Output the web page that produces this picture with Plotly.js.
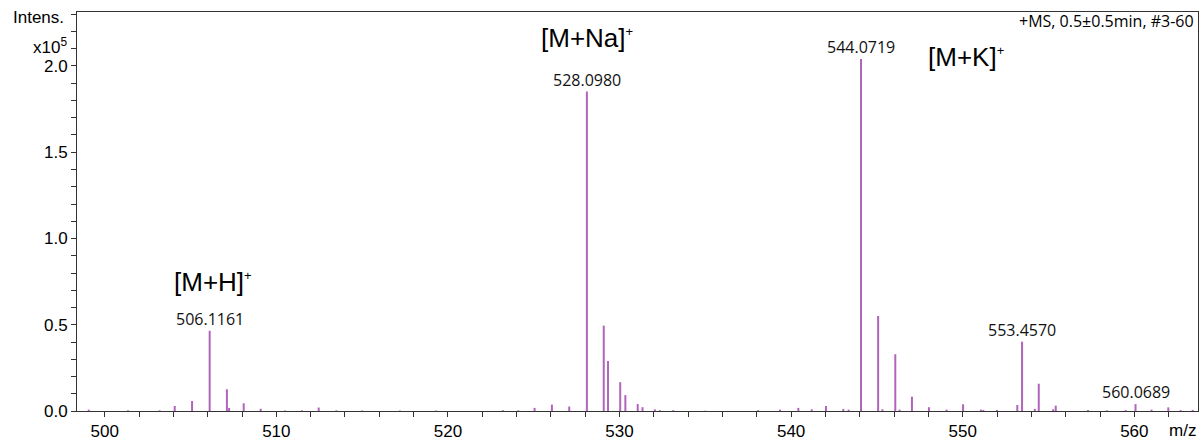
<!DOCTYPE html>
<html>
<head>
<meta charset="utf-8">
<script src="https://cdn.plot.ly/plotly-3.0.1.min.js"></script>
<style>
  html, body { margin: 0; padding: 0; background: #fff; }
  #chart { width: 1202px; height: 441px; }
</style>
</head>
<body>
<div id="chart"></div>
<script>
// m/z values of the spectrum sticks
const mzValues = [
  499.07, 501.36, 503.20, 504.08, 505.09, 506.1161, 507.12, 507.25, 508.10, 509.09,
  510.50, 511.50, 512.47, 513.50, 515.00, 517.20, 519.30, 523.20, 524.10, 525.05,
  526.06, 527.07, 528.0980, 529.08, 529.33, 530.04, 530.34, 531.06, 531.34, 532.06,
  532.35, 533.13, 535.00, 538.08, 539.35, 540.42, 541.20, 542.03, 543.04, 543.35,
  544.0719, 545.07, 545.32, 546.07, 546.32, 547.04, 548.03, 549.06, 550.02, 551.06,
  551.20, 552.00, 553.18, 553.4570, 554.20, 554.43, 555.27, 555.42, 557.30, 558.40,
  559.50, 560.0689, 561.00, 561.98, 562.70, 563.40
];
// intensities (x10^5)
const intensities = [
  0.008, 0.004, 0.004, 0.029, 0.058, 0.465, 0.126, 0.018, 0.045, 0.013,
  0.003, 0.004, 0.020, 0.004, 0.003, 0.003, 0.003, 0.005, 0.004, 0.018,
  0.037, 0.026, 1.852, 0.495, 0.290, 0.167, 0.092, 0.041, 0.022, 0.009,
  0.005, 0.005, 0.002, 0.005, 0.008, 0.018, 0.010, 0.029, 0.012, 0.008,
  2.040, 0.551, 0.010, 0.329, 0.008, 0.083, 0.022, 0.008, 0.039, 0.008,
  0.006, 0.006, 0.035, 0.402, 0.012, 0.158, 0.010, 0.031, 0.006, 0.004,
  0.005, 0.040, 0.008, 0.021, 0.005, 0.006
];
// peaks that carry an m/z label
const labelledPeaks = [506.1161, 528.0980, 544.0719, 553.4570, 560.0689];
// ion assignment labels
const ionNames = ['[M+H]', '[M+Na]', '[M+K]'];

const stickColor = '#b064bb';

// build stick lines
const sx = [], sy = [];
mzValues.forEach((m, i) => {
  sx.push(m, m, null);
  sy.push(0, intensities[i], null);
});

const annotations = [];
labelledPeaks.forEach(m => {
  const idx = mzValues.indexOf(m);
  annotations.push({
    x: m, y: intensities[idx], xref: 'x', yref: 'y',
    text: m.toFixed(4), showarrow: false,
    xanchor: 'center', yanchor: 'bottom', yshift: -1,
    font: { family: 'Open Sans', size: 16, color: '#111' }
  });
});

const ionPos = [[506.3, 0.748], [528.13, 2.16], [550.19, 2.05]];
ionNames.forEach((t, i) => {
  annotations.push({
    x: ionPos[i][0], y: ionPos[i][1], xref: 'x', yref: 'y',
    text: t + '<sup><span style="font-size:13px">+</span></sup>',
    showarrow: false, xanchor: 'center', yanchor: 'middle',
    font: { family: 'Liberation Sans', size: 26, color: '#000' }
  });
});

// axis captions
annotations.push({
  xref: 'paper', yref: 'paper', x: -0.0095, y: 0.985,
  text: 'Intens.', showarrow: false, xanchor: 'right', yanchor: 'middle',
  font: { family: 'Liberation Sans', size: 17, color: '#000' }
});
annotations.push({
  xref: 'paper', yref: 'paper', x: -0.0075, y: 0.915,
  text: 'x10<sup>5</sup>', showarrow: false, xanchor: 'right', yanchor: 'middle',
  font: { family: 'Liberation Sans', size: 17, color: '#000' }
});
annotations.push({
  xref: 'paper', yref: 'paper', x: 1.0, y: -0.048,
  text: 'm/z', showarrow: false, xanchor: 'right', yanchor: 'middle',
  font: { family: 'Liberation Sans', size: 17, color: '#000' }
});
annotations.push({
  xref: 'paper', yref: 'paper', x: 0.9985, y: 0.977,
  text: '+MS, 0.5±0.5min, #3-60', showarrow: false, xanchor: 'right', yanchor: 'middle',
  font: { family: 'Open Sans', size: 16, color: '#000' }
});

const trace = {
  x: sx, y: sy, type: 'scatter', mode: 'lines',
  line: { color: stickColor, width: 2 },
  hoverinfo: 'skip', showlegend: false
};

const layout = {
  width: 1202, height: 441,
  margin: { l: 77, r: 4, t: 12, b: 30 },
  paper_bgcolor: '#fff', plot_bgcolor: '#fff',
  showlegend: false,
  xaxis: {
    range: [498.385, 563.71],
    tickvals: [500, 510, 520, 530, 540, 550, 560],
    ticktext: ['500', '510', '520', '530', '540', '550', '560'],
    ticks: 'outside', ticklen: 5, tickcolor: '#333', tickwidth: 1,
    minor: { dtick: 2, tick0: 500, ticks: 'outside', ticklen: 5, tickcolor: '#333', showgrid: false },
    showgrid: false, zeroline: false,
    showline: true, linecolor: '#333', linewidth: 1, mirror: true,
    tickfont: { family: 'Liberation Sans', size: 17, color: '#000' }
  },
  yaxis: {
    range: [0, 2.313],
    tickvals: [0, 0.5, 1.0, 1.5, 2.0],
    ticktext: ['0.0', '0.5', '1.0', '1.5', '2.0'],
    ticks: 'outside', ticklen: 5, tickcolor: '#333', tickwidth: 1,
    minor: { dtick: 0.1, tick0: 0, ticks: 'outside', ticklen: 5, tickcolor: '#333', showgrid: false },
    showgrid: false, zeroline: false,
    showline: true, linecolor: '#333', linewidth: 1, mirror: true,
    tickfont: { family: 'Liberation Sans', size: 17, color: '#000' }
  },
  annotations: annotations
};

Plotly.newPlot('chart', [trace], layout, { displayModeBar: false, staticPlot: true });
</script>
</body>
</html>
